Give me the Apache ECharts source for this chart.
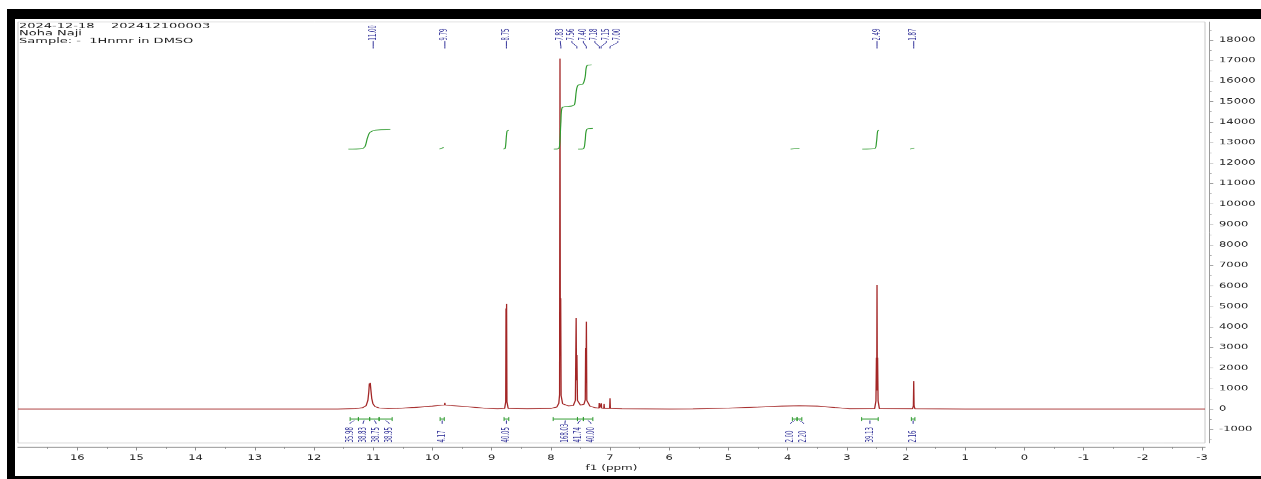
<!DOCTYPE html>
<html>
<head>
<meta charset="utf-8">
<script src="https://cdn.jsdelivr.net/npm/echarts@6/dist/echarts.min.js"></script>
<style>
  html, body { margin: 0; padding: 0; background: #fff; width: 1261px; height: 479px; overflow: hidden; }
  #chart { position: absolute; left: 0; top: 0; width: 1261px; height: 800px; transform-origin: 0 0; }
  #frame { position: absolute; left: 7px; top: 9px; right: -10px; bottom: 0; border: solid #000;
           border-width: 10px 0 3px 8px; pointer-events: none; z-index: 2; }
</style>
</head>
<body>
<div id="chart"></div>
<div id="frame"></div>
<script>
// ---- spectrum header ----
const titleLines = ['2024-12-18    202412100003', 'Noha Naji', 'Sample: -  1Hnmr in DMSO'];

// ---- axis ticks (ppm and intensity) ----
const xTickValues = [16, 15, 14, 13, 12, 11, 10, 9, 8, 7, 6, 5, 4, 3, 2, 1, 0, -1, -2, -3];
const xMinorValues = [16.5, 15.5, 14.5, 13.5, 12.5, 11.5, 10.5, 9.5, 8.5, 7.5, 6.5, 5.5, 4.5, 3.5, 2.5, 1.5, 0.5, -0.5, -1.5, -2.5];
const yTickValues = [-1000, 0, 1000, 2000, 3000, 4000, 5000, 6000, 7000, 8000, 9000, 10000,
                     11000, 12000, 13000, 14000, 15000, 16000, 17000, 18000];
const yMinorValues = [-1500, -500, 500, 1500, 2500, 3500, 4500, 5500, 6500, 7500, 8500, 9500,
                      10500, 11500, 12500, 13500, 14500, 15500, 16500, 17500, 18500];

// ---- 1H trace: [ppm, intensity] ----
const spectrum = [
  [17.00, 0], [11.60, 0], [11.30, 20], [11.18, 60], [11.12, 160], [11.09, 420], [11.075, 820],
  [11.065, 1240], [11.058, 1150], [11.050, 1270], [11.040, 950], [11.025, 520], [11.005, 260],
  [10.97, 120], [10.90, 50], [10.75, 20],
  [10.60, 25], [10.30, 75], [10.00, 140], [9.85, 185], [9.795, 195], [9.790, 300], [9.785, 195],
  [9.70, 175], [9.40, 105], [9.10, 35], [8.90, 10],
  [8.78, 25], [8.762, 350], [8.757, 4900], [8.752, 900], [8.747, 5120], [8.741, 350], [8.72, 30],
  [8.40, 15], [8.00, 30], [7.90, 90], [7.865, 280], [7.852, 700], [7.845, 17100], [7.839, 2600],
  [7.833, 5400], [7.826, 650], [7.80, 250], [7.70, 150], [7.62, 170],
  [7.585, 420], [7.572, 4440], [7.566, 1400], [7.559, 2630], [7.550, 420], [7.50, 190], [7.44, 230],
  [7.418, 450], [7.412, 2980], [7.406, 1400], [7.399, 4260], [7.392, 420], [7.34, 140], [7.25, 60],
  [7.187, 40], [7.182, 290], [7.177, 40], [7.152, 40], [7.147, 280], [7.142, 40],
  [7.105, 30], [7.100, 240], [7.095, 30], [7.006, 30], [7.000, 520], [6.994, 30],
  [6.80, 10], [6.00, 0], [5.60, 5], [5.00, 40], [4.50, 90], [4.10, 140], [3.80, 160], [3.50, 140],
  [3.20, 70], [2.95, 15],
  [2.53, 20], [2.508, 400], [2.500, 2500], [2.495, 900], [2.490, 6050], [2.485, 900], [2.480, 2500],
  [2.472, 400], [2.45, 20],
  [1.89, 10], [1.876, 150], [1.870, 1370], [1.864, 150], [1.85, 10],
  [1.00, 0], [-3.05, 0]
];

// ---- integral curves: [ppm, intensity-scale position] ----
const integralTraces = [
  [[11.42, 12680], [11.20, 12700], [11.14, 12800], [11.10, 13200], [11.06, 13480], [11.00, 13580], [10.90, 13620], [10.71, 13640]],
  [[9.88, 12680], [9.81, 12760]],
  [[8.80, 12680], [8.77, 12720], [8.74, 13550], [8.71, 13610]],
  [[7.95, 12680], [7.87, 12700], [7.85, 12900], [7.83, 14000], [7.81, 14700], [7.65, 14780], [7.60, 14850],
   [7.57, 15500], [7.54, 15800], [7.46, 15850], [7.42, 16200], [7.39, 16750], [7.31, 16790]],
  [[7.54, 12680], [7.45, 12700], [7.42, 13100], [7.39, 13650], [7.29, 13690]],
  [[3.95, 12680], [3.80, 12720]],
  [[2.74, 12680], [2.53, 12700], [2.50, 13000], [2.48, 13550], [2.46, 13610]],
  [[1.93, 12680], [1.86, 12730]]
];

// ---- picked peaks (ppm) ----
const peakLabels = [11.00, 9.79, 8.75, 7.83, 7.56, 7.40, 7.18, 7.15, 7.00, 2.49, 1.87];

// ---- integral regions: [from ppm, to ppm, area] ----
const integrals = [
  [11.39, 11.25, 35.98], [11.25, 11.06, 38.83], [11.06, 10.90, 38.75], [10.90, 10.68, 38.95],
  [9.87, 9.80, 4.17],
  [8.79, 8.71, 40.05],
  [7.96, 7.55, 168.03], [7.55, 7.45, 41.74], [7.45, 7.29, 40.00],
  [3.92, 3.84, 2.00], [3.84, 3.76, 2.20],
  [2.75, 2.47, 39.13],
  [1.91, 1.85, 2.16]
];

// The printout is compressed vertically; the chart is drawn tall and squeezed.
const SY = 479 / 800;
const py = v => v / SY;          // page y (px) -> chart y (px)
const FONT = '"DejaVu Sans", Verdana, sans-serif';
const FONT_NARROW = '"DejaVu Sans Condensed", "DejaVu Sans", sans-serif';
const BLUE = '#34349a';
const GREEN = '#2f9b2f';
const RED = '#a32626';

const chartEl = document.getElementById('chart');
chartEl.style.transform = 'scaleY(' + SY + ')';

// Spread label anchors so that neighbours keep at least `gap` px apart.
function spread(xs, gap) {
  const groups = xs.map(x => ({ sum: x, n: 1, start: x }));
  let merged = true;
  while (merged) {
    merged = false;
    for (let i = 1; i < groups.length; i++) {
      const a = groups[i - 1], b = groups[i];
      if (b.start < a.start + a.n * gap) {
        const g = { sum: a.sum + b.sum, n: a.n + b.n };
        g.start = g.sum / g.n - (g.n - 1) * gap / 2;
        groups.splice(i - 1, 2, g);
        merged = true;
        break;
      }
    }
  }
  const out = [];
  groups.forEach(g => { for (let k = 0; k < g.n; k++) out.push(g.start + k * gap); });
  return out;
}

const vText = (x, y, text, size) => ({
  type: 'text', x, y, rotation: Math.PI / 2,
  style: { text, font: size + 'px ' + FONT_NARROW, fill: BLUE,
           align: 'left', verticalAlign: 'middle', textAlign: 'left', textVerticalAlign: 'middle' }
});

function renderPeakLabels(params, api) {
  if (params.dataIndex !== 0) return;
  const items = peakLabels.map(p => ({ p, x: api.coord([p, 0])[0] })).sort((a, b) => a.x - b.x);
  const lx = spread(items.map(d => d.x), 11.5);
  const children = [];
  items.forEach((d, i) => {
    children.push(vText(lx[i], py(40.6), d.p.toFixed(2), 10));
    children.push({
      type: 'polyline',
      shape: { points: [[lx[i], py(41)], [lx[i], py(42.5)], [d.x, py(46.5)], [d.x, py(48.5)]] },
      style: { stroke: BLUE, lineWidth: 1, fill: null }
    });
  });
  return { type: 'group', children };
}

function renderIntegrals(params, api) {
  if (params.dataIndex !== 0) return;
  const items = integrals.map(r => {
    const x0 = api.coord([r[0], 0])[0], x1 = api.coord([r[1], 0])[0];
    return { x0, x1, mid: (x0 + x1) / 2, v: r[2] };
  }).sort((a, b) => a.mid - b.mid);
  const lx = spread(items.map(d => d.mid), 13);
  const yb = py(419);
  const children = [];
  items.forEach((d, i) => {
    children.push({ type: 'line', shape: { x1: d.x0, y1: yb, x2: d.x1, y2: yb }, style: { stroke: GREEN, lineWidth: 1.6 } });
    children.push({ type: 'line', shape: { x1: d.x0, y1: py(417), x2: d.x0, y2: py(421) }, style: { stroke: GREEN, lineWidth: 1 } });
    children.push({ type: 'line', shape: { x1: d.x1, y1: py(417), x2: d.x1, y2: py(421) }, style: { stroke: GREEN, lineWidth: 1 } });
    children.push({
      type: 'polyline',
      shape: { points: [[d.mid, py(420.5)], [lx[i], py(423)], [lx[i], py(423.8)]] },
      style: { stroke: BLUE, lineWidth: 1, fill: null }
    });
    children.push(vText(lx[i], py(442.5), d.v.toFixed(2), 10));
  });
  return { type: 'group', children };
}

const axisLabelStyle = { fontFamily: FONT, fontSize: 11.5, color: '#222' };
const plain = v => String(v);

const option = {
  animation: false,
  backgroundColor: 'transparent',
  textStyle: { fontFamily: FONT },
  grid: { left: 18, right: 56, top: py(22), bottom: py(36), show: true,
          borderColor: '#c6c6c6', borderWidth: 1, backgroundColor: 'transparent' },
  xAxis: [
    {
      type: 'value', inverse: true, min: -3.05, max: 17.0, position: 'bottom', offset: py(4),
      name: 'f1 (ppm)', nameLocation: 'middle', nameGap: py(15.5),
      nameTextStyle: { fontFamily: FONT, fontSize: 12, color: '#222' },
      axisLine: { onZero: false, lineStyle: { color: '#8c8c8c', width: 1.5 } },
      axisTick: { customValues: xTickValues, length: py(3.5), lineStyle: { color: '#8c8c8c', width: 1 } },
      axisLabel: Object.assign({ customValues: xTickValues, margin: py(7.5), formatter: plain }, axisLabelStyle),
      splitLine: { show: false }
    },
    {
      type: 'value', inverse: true, min: -3.05, max: 17.0, position: 'bottom', offset: py(4),
      axisLine: { show: false, onZero: false }, axisLabel: { show: false }, splitLine: { show: false },
      axisTick: { customValues: xMinorValues, length: py(1.8), lineStyle: { color: '#8c8c8c', width: 1 } }
    }
  ],
  yAxis: [
    {
      type: 'value', min: -1660, max: 18880, position: 'right', offset: 4,
      axisLine: { show: true, onZero: false, lineStyle: { color: '#9a9a9a', width: 1 } },
      axisTick: { show: true, customValues: yTickValues, length: 4.3, lineStyle: { color: '#9a9a9a', width: 1 } },
      axisLabel: Object.assign({ customValues: yTickValues, margin: 10, formatter: plain }, axisLabelStyle),
      splitLine: { show: false }
    },
    {
      type: 'value', min: -1660, max: 18880, position: 'right', offset: 4,
      axisLine: { show: false, onZero: false }, axisLabel: { show: false }, splitLine: { show: false },
      axisTick: { show: true, customValues: yMinorValues, length: 2.7, lineStyle: { color: '#9a9a9a', width: 1 } }
    }
  ],
  graphic: {
    elements: [{
      type: 'text', left: 19, top: py(22.3),
      style: { text: titleLines.join('\n'), font: '13px ' + FONT, fill: '#1c1c1c', lineHeight: py(7.4) }
    }]
  },
  series: [
    {
      type: 'line', name: 'spectrum', data: spectrum, showSymbol: false, sampling: null,
      lineStyle: { color: RED, width: 1.3 }, z: 3, silent: true
    },
    ...integralTraces.map((tr, i) => ({
      type: 'line', name: 'integral ' + (i + 1), data: tr, showSymbol: false, smooth: 0.3,
      lineStyle: { color: GREEN, width: 1.2 }, z: 4, silent: true
    })),
    { type: 'custom', name: 'peaks', data: [[0, 0]], renderItem: renderPeakLabels, z: 5, silent: true, clip: false },
    { type: 'custom', name: 'integrals', data: [[0, 0]], renderItem: renderIntegrals, z: 5, silent: true, clip: false }
  ]
};

const chart = echarts.init(chartEl, null, { renderer: 'canvas' });
chart.setOption(option);
</script>
</body>
</html>
